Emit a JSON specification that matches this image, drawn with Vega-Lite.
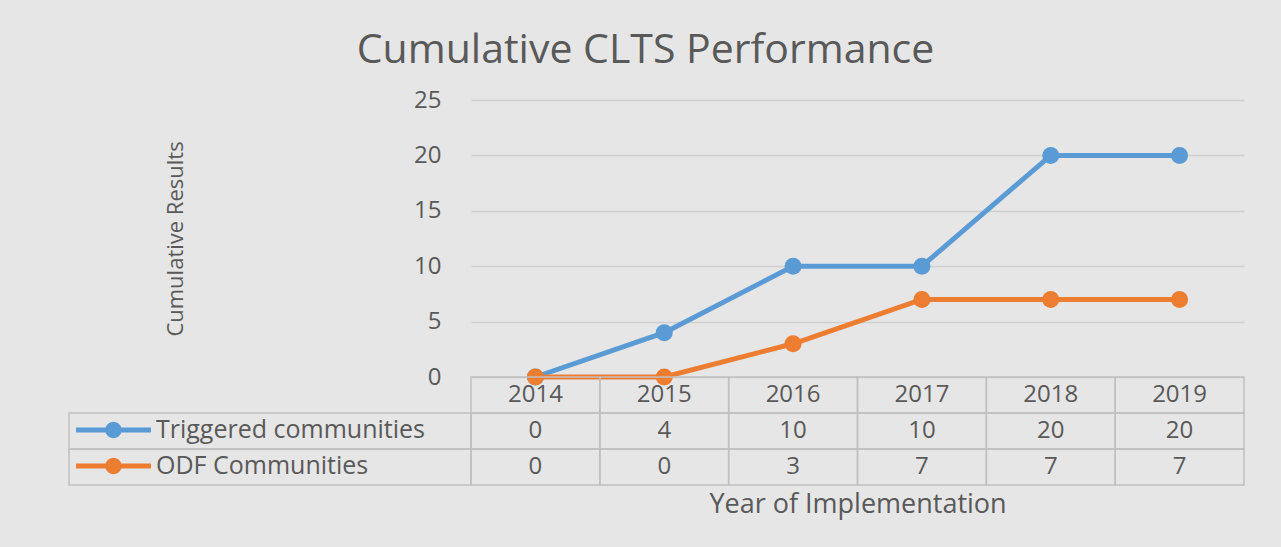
{
  "$schema": "https://vega.github.io/schema/vega-lite/v6.json",
  "background": "#e6e6e6",
  "padding": {"left": 68, "right": 38, "top": 30, "bottom": 32},
  "autosize": {"type": "pad"},
  "title": {"text": "Cumulative CLTS Performance", "fontSize": 41, "font": "Open Sans", "fontWeight": "normal", "color": "#595959", "anchor": "middle", "dx": -11, "offset": 16},
  "data": {"values": [
    {"year": "2014", "series": "Triggered communities", "value": 0},
    {"year": "2015", "series": "Triggered communities", "value": 4},
    {"year": "2016", "series": "Triggered communities", "value": 10},
    {"year": "2017", "series": "Triggered communities", "value": 10},
    {"year": "2018", "series": "Triggered communities", "value": 20},
    {"year": "2019", "series": "Triggered communities", "value": 20},
    {"year": "2014", "series": "ODF Communities", "value": 0},
    {"year": "2015", "series": "ODF Communities", "value": 0},
    {"year": "2016", "series": "ODF Communities", "value": 3},
    {"year": "2017", "series": "ODF Communities", "value": 7},
    {"year": "2018", "series": "ODF Communities", "value": 7},
    {"year": "2019", "series": "ODF Communities", "value": 7}
  ]},
  "columns": 2,
  "spacing": 0,
  "bounds": "flush",
  "align": "each",
  "concat": [
    {
      "width": 402, "height": 277,
      "data": {"values": [{}]},
      "mark": {"type": "text"},
      "encoding": {"text": {"value": ""}}
    },
    {
      "width": 773, "height": 277,
      "encoding": {
        "x": {"field": "year", "type": "ordinal", "axis": null},
        "y": {"field": "value", "type": "quantitative", "scale": {"domain": [0, 25], "nice": false},
          "axis": {"title": "Cumulative Results", "values": [0, 5, 10, 15, 20, 25], "grid": true, "gridColor": "#d0d0d0", "gridWidth": 1.5, "domain": false, "ticks": false, "labelPadding": 30, "labelFontSize": 24, "labelColor": "#595959", "labelFont": "Open Sans", "titleFont": "Open Sans", "titleFontSize": 22, "titleFontWeight": "normal", "titleColor": "#595959", "titlePadding": 222, "minExtent": 62, "maxExtent": 62}},
        "color": {"field": "series", "type": "nominal",
          "scale": {"domain": ["Triggered communities", "ODF Communities"], "range": ["#5b9bd5", "#ed7d31"]},
          "legend": {"title": null, "orient": "none", "legendX": 7, "legendY": 312, "direction": "vertical",
            "symbolType": "M-1,-0.067L1,-0.067L1,0.067L-1,0.067Z M-0.22,0A0.22,0.22 0 1,1 0.22,0A0.22,0.22 0 1,1 -0.22,0Z",
            "symbolSize": 5625, "symbolStrokeWidth": 0, "clipHeight": 36, "rowPadding": 0, "labelOffset": 5,
            "labelFontSize": 25, "labelColor": "#595959", "labelFont": "Open Sans", "padding": 0, "labelLimit": 400,
            "encode": {"symbols": {"update": {"fill": {"scale": "color", "field": "value"}, "opacity": {"value": 1}, "strokeWidth": {"value": 0}}}}}
        }
      },
      "layer": [
        {"mark": {"type": "line", "strokeWidth": 5}},
        {"mark": {"type": "point", "filled": true, "size": 290, "opacity": 1}}
      ]
    },
    {
      "width": 402, "height": 108,
      "transform": [{"aggregate": [{"op": "count", "as": "n"}], "groupby": ["series"]}],
      "mark": {"type": "rect", "fillOpacity": 0, "stroke": "#c0c0c0", "strokeWidth": 1.5},
      "encoding": {
        "y": {"field": "series", "type": "nominal", "scale": {"domain": ["Year", "Triggered communities", "ODF Communities"], "paddingInner": 0, "paddingOuter": 0}, "axis": null}
      }
    },
    {
      "width": 773, "height": 108,
      "encoding": {
        "x": {"field": "year", "type": "ordinal", "scale": {"paddingInner": 0, "paddingOuter": 0},
          "axis": {"title": "Year of Implementation", "labels": false, "ticks": false, "domain": false, "titleFont": "Open Sans", "titleFontSize": 27, "titleFontWeight": "normal", "titleColor": "#595959", "titlePadding": 6}},
        "y": {"field": "series", "type": "nominal", "scale": {"domain": ["Year", "Triggered communities", "ODF Communities"], "paddingInner": 0, "paddingOuter": 0}, "axis": null}
      },
      "layer": [
        {"mark": {"type": "rect", "fillOpacity": 0, "stroke": "#c0c0c0", "strokeWidth": 1.5}},
        {"mark": {"type": "text", "font": "Open Sans", "fontSize": 24, "fill": "#595959"}, "encoding": {"text": {"field": "value", "type": "quantitative"}}},
        {"transform": [{"aggregate": [{"op": "count", "as": "n"}], "groupby": ["year"]}],
          "mark": {"type": "rect", "fillOpacity": 0, "stroke": "#c0c0c0", "strokeWidth": 1.5},
          "encoding": {"y": {"datum": "Year", "type": "nominal"}}},
        {"transform": [{"aggregate": [{"op": "count", "as": "n"}], "groupby": ["year"]}],
          "mark": {"type": "text", "font": "Open Sans", "fontSize": 24, "fill": "#595959"},
          "encoding": {"y": {"datum": "Year", "type": "nominal"}, "text": {"field": "year", "type": "nominal"}}}
      ]
    }
  ],
  "config": {"view": {"stroke": null}, "font": "Open Sans"}
}
